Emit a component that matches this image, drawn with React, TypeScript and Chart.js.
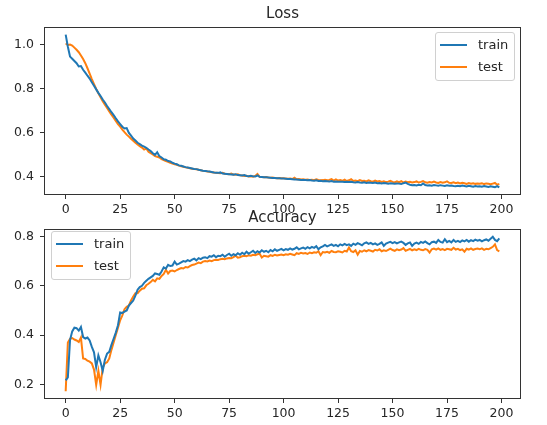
import React, { useEffect, useRef } from "react";
import { Chart, registerables } from "chart.js";

Chart.register(...registerables);

const lossTrain = [
  1.045, 0.99, 0.945, 0.935, 0.925, 0.915, 0.9, 0.902, 0.885, 0.872,
  0.858, 0.845, 0.828, 0.812, 0.796, 0.78, 0.766, 0.75, 0.736, 0.72,
  0.706, 0.692, 0.679, 0.664, 0.65, 0.638, 0.626, 0.618, 0.62, 0.598,
  0.585, 0.572, 0.563, 0.553, 0.547, 0.54, 0.535, 0.53, 0.522, 0.515,
  0.505, 0.498, 0.51, 0.492, 0.486, 0.478, 0.476, 0.47, 0.468, 0.462,
  0.458, 0.455, 0.45, 0.448, 0.445, 0.442, 0.44, 0.438, 0.436, 0.434,
  0.433, 0.43, 0.428, 0.426, 0.425, 0.423, 0.422, 0.42, 0.418, 0.417,
  0.416, 0.418, 0.413, 0.412, 0.411, 0.41, 0.409, 0.408, 0.41, 0.406,
  0.405, 0.404, 0.406, 0.402, 0.401, 0.403, 0.4, 0.399, 0.404, 0.398,
  0.397, 0.396, 0.396, 0.395, 0.394, 0.393, 0.393, 0.392, 0.391, 0.39,
  0.39, 0.389, 0.388, 0.388, 0.387, 0.386, 0.386, 0.385, 0.384, 0.384,
  0.383, 0.382, 0.383, 0.381, 0.38, 0.382, 0.379, 0.38, 0.378, 0.379,
  0.378, 0.377, 0.379, 0.376, 0.377, 0.376, 0.375, 0.376, 0.374, 0.375,
  0.374, 0.375, 0.373, 0.372, 0.374, 0.372, 0.371, 0.373, 0.37, 0.372,
  0.371, 0.37, 0.372, 0.369, 0.37, 0.368, 0.37, 0.369, 0.367, 0.369,
  0.368, 0.366, 0.368, 0.367, 0.365, 0.369, 0.372, 0.366, 0.362, 0.36,
  0.361, 0.359, 0.362, 0.36, 0.368, 0.361, 0.359, 0.36, 0.358, 0.361,
  0.359, 0.357, 0.36, 0.358, 0.356, 0.359, 0.357, 0.358, 0.356, 0.355,
  0.357, 0.355, 0.358, 0.356, 0.354, 0.357, 0.355, 0.353, 0.356, 0.354,
  0.355, 0.353, 0.356, 0.354, 0.352, 0.355, 0.353, 0.351, 0.356, 0.35,
];

const lossTest = [
  1.005, 0.998, 1.0, 0.995, 0.986, 0.976, 0.965, 0.95, 0.934, 0.915,
  0.892, 0.868, 0.843, 0.82, 0.798, 0.778, 0.76, 0.742, 0.726, 0.711,
  0.696, 0.681, 0.667, 0.652, 0.638, 0.626, 0.613, 0.601, 0.59, 0.581,
  0.571, 0.562, 0.553, 0.545, 0.537, 0.531, 0.522, 0.527, 0.512, 0.506,
  0.5, 0.492, 0.489, 0.486, 0.479, 0.474, 0.47, 0.466, 0.462, 0.458,
  0.455, 0.453, 0.449, 0.446, 0.444, 0.441, 0.439, 0.437, 0.435, 0.433,
  0.432, 0.43, 0.428, 0.425, 0.424, 0.422, 0.421, 0.419, 0.418, 0.416,
  0.415, 0.414, 0.416, 0.412, 0.411, 0.41, 0.413, 0.408, 0.407, 0.409,
  0.405, 0.404, 0.402, 0.403, 0.4, 0.401, 0.399, 0.402, 0.411, 0.398,
  0.397, 0.396, 0.397, 0.395, 0.394, 0.395, 0.393, 0.392, 0.393, 0.391,
  0.391, 0.39, 0.389, 0.39, 0.388, 0.394, 0.387, 0.388, 0.386, 0.387,
  0.385, 0.386, 0.384, 0.385, 0.383, 0.387, 0.384, 0.382, 0.383, 0.385,
  0.382, 0.384, 0.388, 0.381, 0.386, 0.381, 0.383, 0.38, 0.385, 0.379,
  0.382, 0.387, 0.379, 0.381, 0.378, 0.383, 0.379, 0.38, 0.377, 0.382,
  0.378, 0.376, 0.381, 0.377, 0.379, 0.375, 0.378, 0.374, 0.376, 0.38,
  0.375, 0.373, 0.377, 0.374, 0.378, 0.372, 0.376, 0.373, 0.375, 0.372,
  0.374, 0.377, 0.372, 0.375, 0.379, 0.373, 0.371, 0.374, 0.372, 0.376,
  0.372, 0.37, 0.374, 0.371, 0.373, 0.377, 0.371, 0.37, 0.373, 0.369,
  0.372, 0.368, 0.371, 0.369, 0.366, 0.37, 0.367, 0.369, 0.366, 0.368,
  0.367, 0.369, 0.365, 0.368, 0.366, 0.364, 0.367, 0.37, 0.362, 0.365,
];

const accTrain = [
  0.216, 0.228, 0.38, 0.415, 0.43, 0.428, 0.418, 0.433, 0.392, 0.386,
  0.39, 0.378, 0.352, 0.33, 0.27, 0.318, 0.29, 0.255, 0.3, 0.325,
  0.332, 0.36, 0.385, 0.41, 0.44, 0.492, 0.49, 0.495, 0.5, 0.52,
  0.53, 0.54, 0.56, 0.584, 0.595, 0.6, 0.612, 0.62, 0.628, 0.634,
  0.64, 0.65, 0.648, 0.645, 0.658, 0.675, 0.67, 0.685, 0.68, 0.682,
  0.698, 0.686, 0.69, 0.695, 0.7, 0.698, 0.704, 0.7, 0.706, 0.71,
  0.703, 0.712, 0.708, 0.714, 0.716, 0.712, 0.72, 0.718, 0.724, 0.716,
  0.722, 0.72, 0.726, 0.718, 0.725, 0.73, 0.722, 0.728, 0.724, 0.732,
  0.726, 0.734, 0.728, 0.738, 0.73, 0.736, 0.742, 0.733, 0.74, 0.735,
  0.744, 0.738, 0.742, 0.736, 0.745, 0.74, 0.748, 0.742, 0.746, 0.75,
  0.744, 0.749, 0.746, 0.752, 0.747, 0.75, 0.756, 0.748, 0.752, 0.755,
  0.75, 0.757, 0.752, 0.758, 0.754, 0.761, 0.748, 0.756, 0.76, 0.766,
  0.76, 0.764, 0.768, 0.762, 0.766, 0.76, 0.768, 0.764, 0.77, 0.765,
  0.768, 0.762, 0.771, 0.766, 0.773, 0.769, 0.764, 0.772, 0.776, 0.77,
  0.774, 0.768, 0.772, 0.766, 0.77, 0.776, 0.762, 0.771, 0.775, 0.778,
  0.773, 0.777, 0.772, 0.776, 0.779, 0.774, 0.766, 0.772, 0.776, 0.762,
  0.771, 0.775, 0.77, 0.778, 0.774, 0.78, 0.773, 0.768, 0.777, 0.779,
  0.774, 0.786, 0.778, 0.775, 0.789, 0.777, 0.782, 0.776, 0.786, 0.778,
  0.782, 0.777, 0.784, 0.78, 0.786, 0.779, 0.785, 0.781, 0.787, 0.783,
  0.786, 0.78, 0.785, 0.788, 0.783, 0.791, 0.799, 0.786, 0.781, 0.792,
];

const accTest = [
  0.172, 0.37, 0.385, 0.388, 0.382, 0.378, 0.372, 0.39, 0.305, 0.303,
  0.296, 0.292, 0.285, 0.26, 0.198, 0.255, 0.198, 0.268, 0.285, 0.29,
  0.305, 0.34, 0.37, 0.4, 0.43, 0.46, 0.48, 0.505, 0.515, 0.52,
  0.54, 0.556, 0.57, 0.57, 0.58, 0.588, 0.59, 0.602, 0.608, 0.615,
  0.624, 0.618, 0.63, 0.628, 0.64, 0.648, 0.665, 0.65, 0.66, 0.662,
  0.658, 0.664, 0.668, 0.672, 0.67, 0.676, 0.674, 0.68, 0.684, 0.686,
  0.69, 0.694, 0.692, 0.698, 0.7, 0.699, 0.702, 0.7, 0.704, 0.706,
  0.705, 0.708, 0.71, 0.708, 0.711, 0.713, 0.712, 0.716, 0.722, 0.714,
  0.716, 0.72, 0.722, 0.72, 0.724, 0.722, 0.726, 0.724, 0.728, 0.73,
  0.715, 0.722, 0.72, 0.718, 0.724, 0.721, 0.726, 0.723, 0.725, 0.727,
  0.724, 0.728, 0.726, 0.73, 0.727, 0.724, 0.732, 0.729, 0.734, 0.731,
  0.733, 0.729, 0.735, 0.732, 0.736, 0.734, 0.74, 0.724, 0.737, 0.735,
  0.738, 0.734, 0.741, 0.737, 0.736, 0.74, 0.738, 0.735, 0.742, 0.739,
  0.755, 0.74, 0.737, 0.744, 0.726, 0.741, 0.738, 0.744, 0.74, 0.745,
  0.742, 0.739, 0.746, 0.743, 0.748, 0.74, 0.744, 0.741, 0.746, 0.751,
  0.745, 0.742, 0.748, 0.744, 0.747, 0.753, 0.742, 0.746, 0.75, 0.744,
  0.748, 0.745, 0.75, 0.746, 0.744, 0.749, 0.746, 0.735, 0.748, 0.751,
  0.747, 0.752, 0.746, 0.749, 0.745, 0.75, 0.748, 0.746, 0.754, 0.747,
  0.75, 0.745, 0.748, 0.738, 0.75, 0.747, 0.752, 0.746, 0.749, 0.751,
  0.748, 0.752, 0.746, 0.75, 0.748, 0.753, 0.758, 0.768, 0.745, 0.74,
];

const xTicks = [0, 25, 50, 75, 100, 125, 150, 175, 200];
const lossTicks = [0.4, 0.6, 0.8, 1.0];
const accTicks = [0.2, 0.4, 0.6, 0.8];
const seriesNames = ["train", "test"];

const BLUE = "#1f77b4";
const ORANGE = "#ff7f0e";
const FONT = "'DejaVu Sans', sans-serif";
const TEXT = "#262626";

const boxPlugin = {
  id: "axesBox",
  afterDraw(chart: any) {
    const { ctx, chartArea } = chart;
    ctx.save();
    ctx.strokeStyle = "#333";
    ctx.lineWidth = 1;
    const l = Math.round(chartArea.left) + 0.5;
    const t = Math.round(chartArea.top) + 0.5;
    const r = Math.round(chartArea.right) - 0.5;
    const b = Math.round(chartArea.bottom) - 0.5;
    ctx.strokeRect(l, t, r - l, b - t);
    ctx.restore();
  },
};

function makeChart(
  canvas: HTMLCanvasElement,
  train: number[],
  test: number[],
  yTicks: number[],
  padTop: number,
  axisBottom: number,
  canvasH: number
) {
  const all = train.concat(test);
  const lo = Math.min(...all);
  const hi = Math.max(...all);
  const m = (hi - lo) * 0.05;
  const toPts = (arr: number[]) => arr.map((y, i) => ({ x: i, y }));
  return new Chart(canvas, {
    type: "line",
    data: {
      datasets: [
        { label: seriesNames[0], data: toPts(train), borderColor: BLUE, borderWidth: 2, pointRadius: 0, tension: 0, fill: false },
        { label: seriesNames[1], data: toPts(test), borderColor: ORANGE, borderWidth: 2, pointRadius: 0, tension: 0, fill: false },
      ],
    },
    options: {
      responsive: false,
      animation: false,
      events: [],
      layout: { padding: { top: padTop, left: 0, right: 26, bottom: 0 } },
      plugins: { legend: { display: false }, title: { display: false }, tooltip: { enabled: false } },
      scales: {
        x: {
          type: "linear",
          min: -9.95,
          max: 208.95,
          afterBuildTicks: (s: any) => { s.ticks = xTicks.map((v) => ({ value: v })); },
          afterFit: (s: any) => { s.height = canvasH - axisBottom; },
          grid: { display: true, drawOnChartArea: false, drawTicks: true, tickLength: 4, tickColor: "#333", tickWidth: 1 },
          border: { display: false },
          ticks: { color: TEXT, font: { family: FONT, size: 12.5 }, padding: 3, maxRotation: 0, callback: (v: any) => String(v) },
        },
        y: {
          type: "linear",
          min: lo - m,
          max: hi + m,
          afterBuildTicks: (s: any) => { s.ticks = yTicks.map((v) => ({ value: v })); },
          afterFit: (s: any) => { s.width = 44; },
          grid: { display: true, drawOnChartArea: false, drawTicks: true, tickLength: 4, tickColor: "#333", tickWidth: 1 },
          border: { display: false },
          ticks: { color: TEXT, font: { family: FONT, size: 12.5 }, padding: 6, callback: (v: any) => Number(v).toFixed(1) },
        },
      },
    },
    plugins: [boxPlugin],
  } as any);
}

function Legend({ left, top }: { left: number; top: number }) {
  const colors = [BLUE, ORANGE];
  return (
    <div
      style={{
        position: "absolute",
        left,
        top,
        width: 80,
        height: 49,
        boxSizing: "border-box",
        border: "1px solid #d0d0d0",
        borderRadius: 3,
        background: "rgba(255,255,255,0.8)",
        fontFamily: FONT,
        fontSize: 13,
        color: TEXT,
      }}
    >
      {seriesNames.map((n, i) => (
        <div key={n} style={{ position: "absolute", left: 0, top: 3 + i * 22, height: 18, width: "100%" }}>
          <div style={{ position: "absolute", left: 4, top: 8, width: 27, height: 2, background: colors[i] }} />
          <div style={{ position: "absolute", left: 42, top: 0, lineHeight: "17px" }}>{n}</div>
        </div>
      ))}
    </div>
  );
}

export default function App() {
  const c1 = useRef<HTMLCanvasElement>(null);
  const c2 = useRef<HTMLCanvasElement>(null);
  useEffect(() => {
    const a = makeChart(c1.current!, lossTrain, lossTest, lossTicks, 27, 195, 222);
    const b = makeChart(c2.current!, accTrain, accTest, accTicks, 29, 199, 225);
    return () => { a.destroy(); b.destroy(); };
  }, []);
  const title = (text: string, top: number) => (
    <div style={{ position: "absolute", left: 44, width: 477, top, textAlign: "center", fontFamily: FONT, fontSize: 15, lineHeight: "18px", color: TEXT }}>
      {text}
    </div>
  );
  return (
    <div style={{ position: "fixed", left: 0, top: 0, width: 547, height: 425, background: "#fff", overflow: "hidden" }}>
      <canvas ref={c1} width={547} height={222} style={{ position: "absolute", left: 0, top: 0, display: "block" }} />
      <canvas ref={c2} width={547} height={225} style={{ position: "absolute", left: 0, top: 200, display: "block" }} />
      {title("Loss", 4)}
      {title("Accuracy", 208)}
      <Legend left={435} top={32} />
      <Legend left={51} top={231} />
    </div>
  );
}
